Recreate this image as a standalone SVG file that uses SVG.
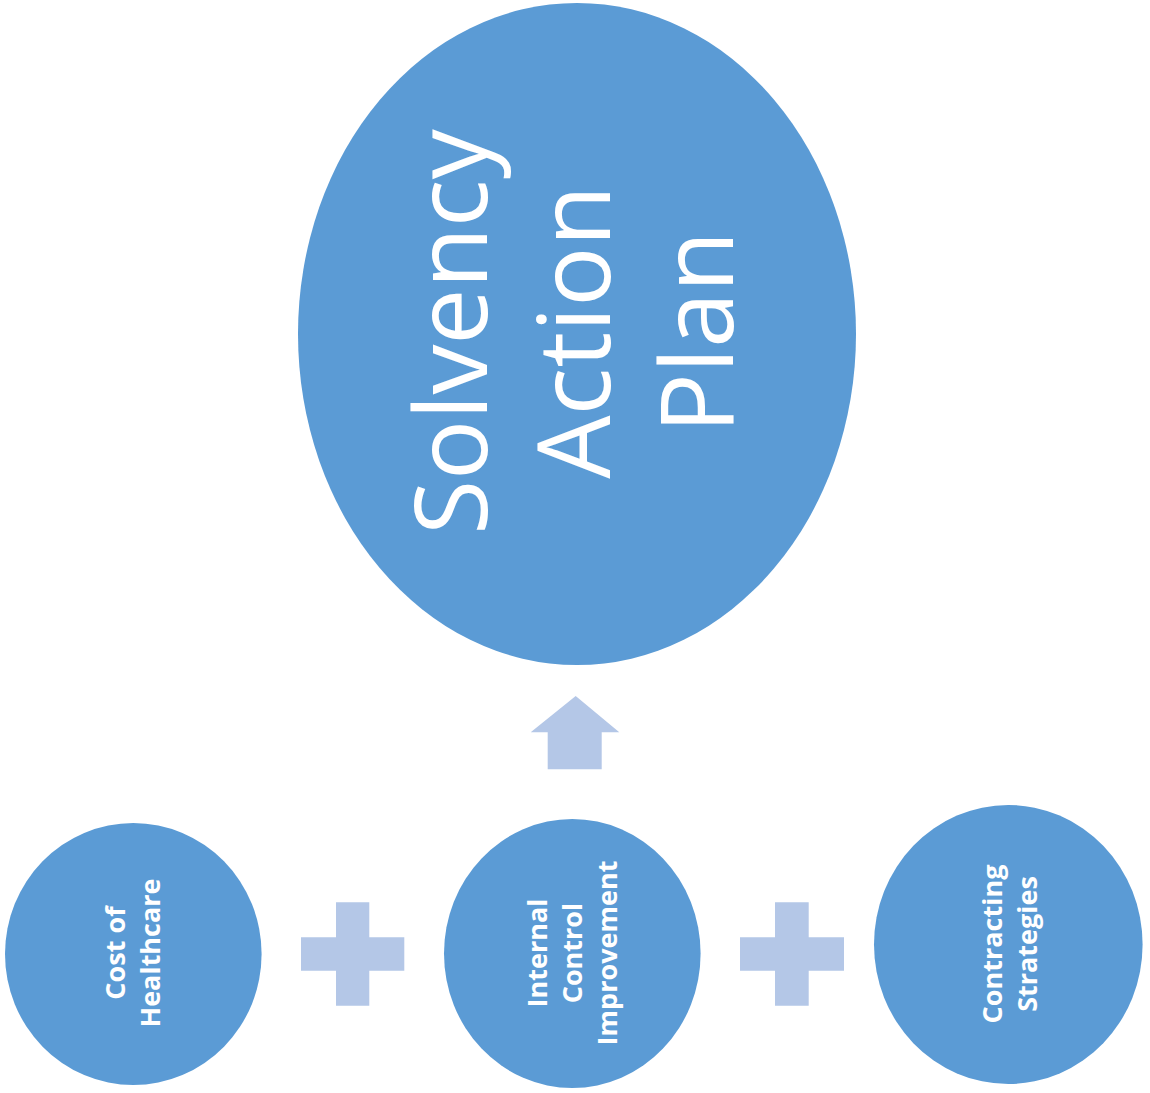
<svg xmlns="http://www.w3.org/2000/svg" width="1150" height="1093" viewBox="0 0 1150 1093">
<style>
.node{fill:#5B9BD5}
.conn{fill:#B4C7E7}
.big{font-family:"Open Sans","Noto Sans",sans-serif;font-size:100px;fill:#fff;text-anchor:middle}
.small{font-family:"Open Sans","Noto Sans",sans-serif;font-size:27px;font-weight:bold;fill:#fff;text-anchor:middle}
</style>
<rect width="1150" height="1093" fill="#fff"/>
<g id="solvency-action-plan">
<ellipse class="node" cx="577" cy="334" rx="279" ry="331"/>
<g transform="translate(577,332) rotate(-90)">
<text class="big" x="0" y="-90">Solvency</text>
<text class="big" x="0" y="33">Action</text>
<text class="big" x="0" y="156">Plan</text>
</g>
</g>
<g id="cost-of-healthcare">
<ellipse class="node" cx="133.3" cy="954" rx="128.3" ry="131"/>
<g transform="translate(142,953) rotate(-90)">
<text class="small" x="0" y="-17">Cost of</text>
<text class="small" x="0" y="18">Healthcare</text>
</g>
</g>
<g id="internal-control-improvement">
<ellipse class="node" cx="572.3" cy="953.5" rx="128.3" ry="134.5"/>
<g transform="translate(582,953) rotate(-90)">
<text class="small" x="0" y="-35">Internal</text>
<text class="small" x="0" y="0">Control</text>
<text class="small" x="0" y="35">Improvement</text>
</g>
</g>
<g id="contracting-strategies">
<ellipse class="node" cx="1008.3" cy="944.5" rx="134.3" ry="139.5"/>
<g transform="translate(1019,944) rotate(-90)">
<text class="small" x="0" y="-17">Contracting</text>
<text class="small" x="0" y="18">Strategies</text>
</g>
</g>
<g id="connectors">
<path class="conn" d="M336,902.3H369.3V937.3H404.3V970.7H369.3V1005.7H336V970.7H301V937.3H336Z"/>
<path class="conn" d="M775,902.3H808.7V937.3H844V970.7H808.7V1005.7H775V970.7H740V937.3H775Z"/>
<path class="conn" d="M575.7,696L619.3,732.3H601.7V769.3H547.7V732.3H530.7Z"/>
</g>
</svg>
